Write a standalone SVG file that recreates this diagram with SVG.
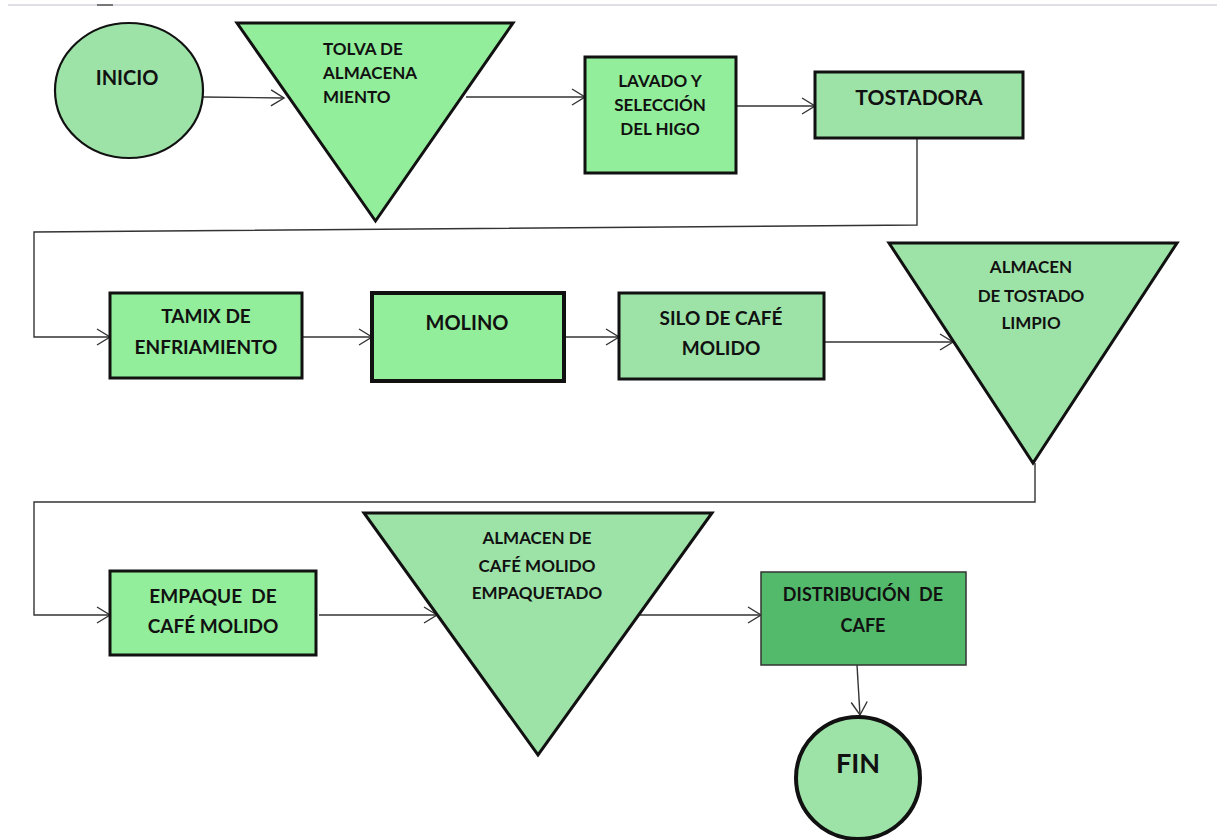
<svg xmlns="http://www.w3.org/2000/svg" width="1217" height="840" viewBox="0 0 1217 840">
<style>
.t{font-family:Lato,"Liberation Sans",sans-serif;font-weight:bold;fill:#111;}
.c{text-anchor:middle;}
.s{stroke:#111;stroke-width:3;}
.g1{fill:#92ee9a;}
.g2{fill:#9de3a8;}
.conn{fill:none;stroke:#333;stroke-width:1.4;}
</style>
<defs>
<marker id="arr" markerWidth="16" markerHeight="18" refX="14" refY="9" orient="auto" markerUnits="userSpaceOnUse">
<path d="M1,1 L14,9 L1,17" fill="none" stroke="#333" stroke-width="1.4"/>
</marker>
</defs>
<rect width="1217" height="840" fill="#fff"/>
<line x1="8" y1="5" x2="1217" y2="5" stroke="#d4d6dc" stroke-width="1.5"/>
<line x1="97" y1="5" x2="113" y2="5" stroke="#555" stroke-width="1.5"/>

<g id="connectors">
<line class="conn" x1="203" y1="97" x2="284" y2="98" marker-end="url(#arr)"/>
<line class="conn" x1="466" y1="97" x2="585" y2="97" marker-end="url(#arr)"/>
<line class="conn" x1="736" y1="106" x2="815" y2="106" marker-end="url(#arr)"/>
<polyline class="conn" points="917,138 917,225 34,232 34,337 110,337" marker-end="url(#arr)"/>
<line class="conn" x1="302" y1="337" x2="372" y2="337" marker-end="url(#arr)"/>
<line class="conn" x1="564" y1="337" x2="619" y2="337" marker-end="url(#arr)"/>
<line class="conn" x1="824" y1="342" x2="953" y2="342" marker-end="url(#arr)"/>
<polyline class="conn" points="1035,463 1035,502 34,502 34,615 110,615" marker-end="url(#arr)"/>
<line class="conn" x1="319" y1="615" x2="437" y2="615" marker-end="url(#arr)"/>
<line class="conn" x1="639" y1="615" x2="761" y2="615" marker-end="url(#arr)"/>
<line class="conn" x1="857" y1="665" x2="860" y2="715" marker-end="url(#arr)"/>
</g>

<g id="inicio">
<ellipse cx="129" cy="90.5" rx="74" ry="67.5" class="g2" stroke="#111" stroke-width="2.2"/>
<text class="t c" x="127" y="85" font-size="20">INICIO</text>
</g>

<g id="tolva">
<polygon points="237,23 513,23 375.5,221" class="g1 s"/>
<text class="t" x="323" y="55" font-size="17">TOLVA DE</text>
<text class="t" x="323" y="79" font-size="17">ALMACENA</text>
<text class="t" x="323" y="103" font-size="17">MIENTO</text>
</g>

<g id="lavado">
<rect x="585" y="57" width="151" height="116" class="g1 s"/>
<text class="t c" x="660" y="87" font-size="17">LAVADO Y</text>
<text class="t c" x="660" y="111" font-size="17">SELECCIÓN</text>
<text class="t c" x="660" y="135" font-size="17">DEL HIGO</text>
</g>

<g id="tostadora">
<rect x="815" y="72" width="208" height="66" class="g2 s"/>
<text class="t c" x="919" y="105" font-size="21">TOSTADORA</text>
</g>

<g id="tamix">
<rect x="110" y="293" width="192" height="85" class="g1 s"/>
<text class="t c" x="206" y="323" font-size="19">TAMIX DE</text>
<text class="t c" x="206" y="354" font-size="19">ENFRIAMIENTO</text>
</g>

<g id="molino">
<rect x="372" y="293" width="192" height="88" class="g1" stroke="#111" stroke-width="4"/>
<text class="t c" x="467" y="330" font-size="20">MOLINO</text>
</g>

<g id="silo">
<rect x="619" y="293" width="205" height="86" class="g2 s"/>
<text class="t c" x="721" y="325" font-size="19">SILO DE CAFÉ</text>
<text class="t c" x="721" y="355" font-size="19">MOLIDO</text>
</g>

<g id="almacen-tostado">
<polygon points="889,243 1177,243 1033,463" class="g2 s"/>
<text class="t c" x="1031" y="273" font-size="17">ALMACEN</text>
<text class="t c" x="1031" y="302" font-size="17">DE TOSTADO</text>
<text class="t c" x="1031" y="329" font-size="17">LIMPIO</text>
</g>

<g id="empaque">
<rect x="110" y="571" width="206" height="84" class="g1 s"/>
<text class="t c" x="213" y="603" font-size="19" xml:space="preserve">EMPAQUE  DE</text>
<text class="t c" x="213" y="633" font-size="19">CAFÉ MOLIDO</text>
</g>

<g id="almacen-empaquetado">
<polygon points="364,513 712,513 538,755" class="g2 s"/>
<text class="t c" x="537" y="544" font-size="17">ALMACEN DE</text>
<text class="t c" x="537" y="572" font-size="17">CAFÉ MOLIDO</text>
<text class="t c" x="537" y="599" font-size="17">EMPAQUETADO</text>
</g>

<g id="distribucion">
<rect x="761" y="572" width="205" height="93" fill="#52ba6a" stroke="#333" stroke-width="1.5"/>
<text class="t c" x="863" y="601" font-size="18" xml:space="preserve">DISTRIBUCIÓN  DE</text>
<text class="t c" x="863" y="632" font-size="18">CAFE</text>
</g>

<g id="fin">
<ellipse cx="858" cy="778" rx="62" ry="61" class="g2" stroke="#111" stroke-width="4"/>
<text class="t c" x="858" y="773" font-size="27">FIN</text>
</g>
</svg>
